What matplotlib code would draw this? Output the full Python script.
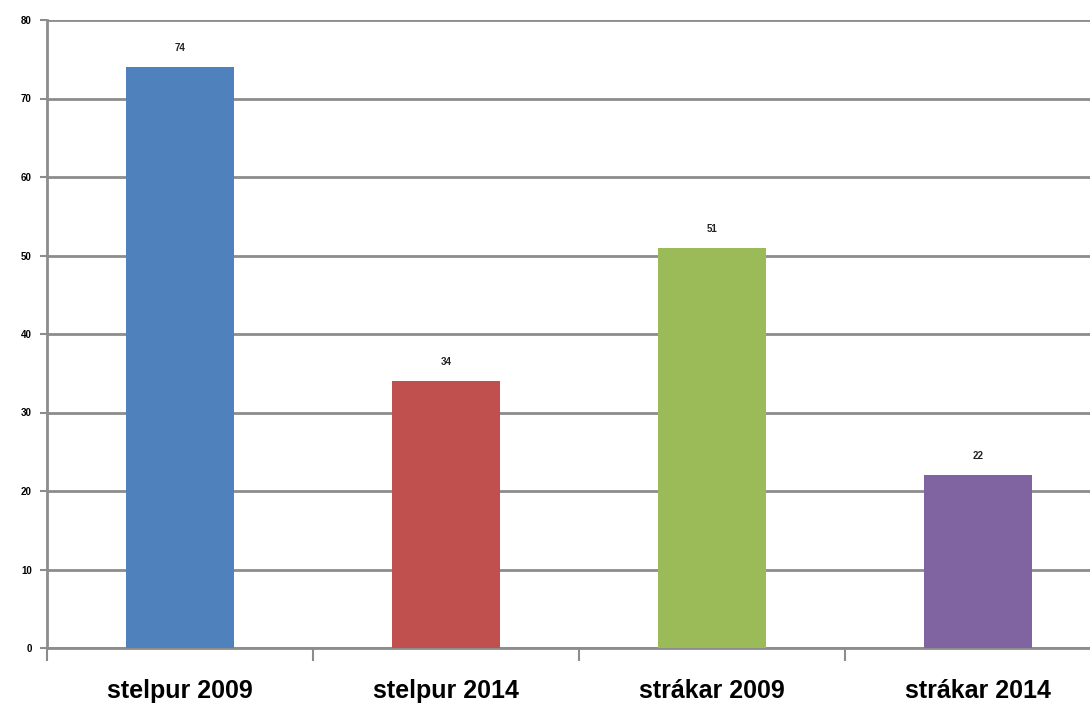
import matplotlib
matplotlib.use("Agg")
import matplotlib.pyplot as plt
from matplotlib.ticker import FixedLocator, NullFormatter

categories = ["stelpur 2009", "stelpur 2014", "strákar 2009", "strákar 2014"]
values = [74, 34, 51, 22]
colors = ["#4f81bd", "#c0504d", "#9bbb59", "#8064a2"]
yticks = [0, 10, 20, 30, 40, 50, 60, 70, 80]

W, H = 1090, 709
fig = plt.figure(figsize=(W / 100, H / 100), dpi=100)
left, right, bottom, top = 47, 1111, 648, 20
ax = fig.add_axes([left / W, (H - bottom) / H, (right - left) / W, (bottom - top) / H])

fam = ["Liberation Sans Narrow", "Liberation Sans", "DejaVu Sans"]
x = list(range(len(categories)))
ax.bar(x, values, width=0.406, color=colors, zorder=3)
for xi, v in zip(x, values):
    ax.text(xi, v + 1.8, str(v), ha="center", va="bottom", fontsize=7,
            fontweight="bold", family=fam, color="#222222", zorder=4)

ax.set_xlim(-0.5, len(categories) - 0.5)
ax.set_ylim(0, 80)
ax.set_yticks(yticks)
ax.set_yticklabels([str(t) for t in yticks], fontsize=7, fontweight="bold", family=fam)
ax.yaxis.grid(True, color="#8c8c8c", linewidth=2, zorder=0)
ax.set_axisbelow(True)

ax.set_xticks(x)
ax.set_xticklabels(categories, fontsize=18, fontweight="bold", family=fam)
ax.tick_params(axis="x", which="major", length=0, pad=22)
ax.xaxis.set_minor_locator(FixedLocator([i - 0.5 for i in range(len(categories) + 1)]))
ax.xaxis.set_minor_formatter(NullFormatter())
ax.tick_params(axis="x", which="minor", length=9, width=1.5, color="#8c8c8c", direction="out")
ax.tick_params(axis="y", length=5, width=1.5, color="#8c8c8c", pad=6)

for s in ["top", "right"]:
    ax.spines[s].set_visible(False)
for s in ["left", "bottom"]:
    ax.spines[s].set_color("#8c8c8c")
    ax.spines[s].set_linewidth(2)

fig.savefig("out.png", dpi=100)
